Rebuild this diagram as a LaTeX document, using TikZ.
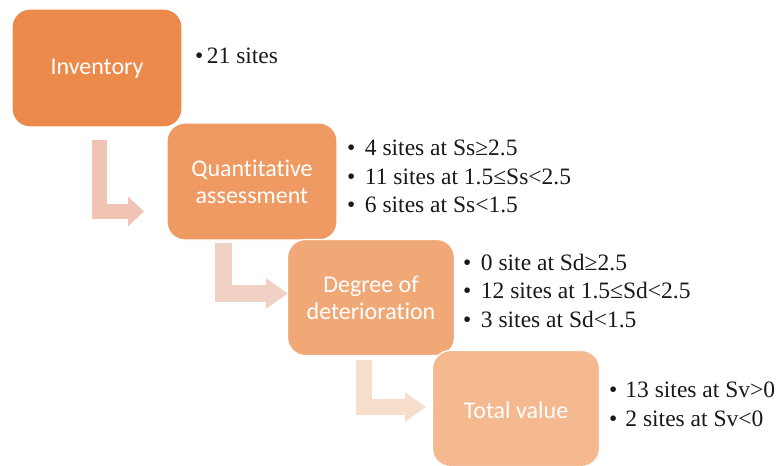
\documentclass[tikz,border=0pt]{standalone}
\usepackage{fontspec}
\setmainfont{Liberation Serif}
\newfontfamily\boxfont[Ligatures={NoCommon}]{Carlito}
\usetikzlibrary{arrows.meta}
\definecolor{cA}{HTML}{EC8A4C}
\definecolor{cB}{HTML}{EF9A63}
\definecolor{cC}{HTML}{F1A877}
\definecolor{cD}{HTML}{F4B98F}
\definecolor{aA}{HTML}{F0C3B4}
\definecolor{aB}{HTML}{F2D1C5}
\definecolor{aC}{HTML}{F7DDCB}
\tikzset{
  stagebox/.style={draw=white, line width=1.2pt, rounded corners=18pt, minimum width=167pt, minimum height=116pt, inner sep=0pt},
  stagelabel/.style={text=white, font=\boxfont\fontsize{24}{26.5}\selectfont, align=center, inner sep=0pt},
  item/.style={anchor=base west, inner sep=0pt, font=\fontsize{23.5}{28}\selectfont, text=black!90},
  bentarrow/.style={line width=#1, line join=miter, line cap=butt},
}
\begin{document}
\begin{tikzpicture}[x=1pt,y=-1pt]
\useasboundingbox (0,0) rectangle (783,465);
% bent arrows
\coordinate (a1s) at (99.5,140);
\coordinate (a1e) at (144,211.5);
\coordinate (a2s) at (223,243);
\coordinate (a2e) at (288,293.5);
\coordinate (a3s) at (364,360);
\coordinate (a3e) at (426,407);
\draw[bentarrow=15pt, aA, -{Triangle[width=29pt,length=16pt]}] (a1s) |- (a1e);
\draw[bentarrow=17pt, aB, -{Triangle[width=29pt,length=22pt]}] (a2s) |- (a2e);
\draw[bentarrow=16pt, aC, -{Triangle[width=28pt,length=21pt]}] (a3s) |- (a3e);
% boxes
\node[stagebox, fill=cA, minimum width=170pt, minimum height=118pt] (b1) at (97,68) {};
\node[stagebox, fill=cB, minimum width=170pt, minimum height=117pt] (b2) at (252,181.5) {};
\node[stagebox, fill=cC] (b3) at (371,297.5) {};
\node[stagebox, fill=cD] (b4) at (516,408.5) {};
\node[stagelabel] (l1) at (97,69) {Inventory};
\node[stagelabel] (l2) at (252,182) {Quantitative\\assessment};
\node[stagelabel] (l3) at (371,298) {Degree of\\deterioration};
\node[stagelabel] (l4) at (516,410) {Total value};
% lists
\node[item] (t1) at (195,64) {\textbullet\hskip3.5pt21 sites};
\node[item] (t2a) at (347,156) {\textbullet\hskip9.5pt4 sites at Ss≥2.5};
\node[item] (t2b) at (347,184) {\textbullet\hskip9.5pt11 sites at 1.5≤Ss<2.5};
\node[item] (t2c) at (347,212) {\textbullet\hskip9.5pt6 sites at Ss<1.5};
\node[item] (t3a) at (463,270) {\textbullet\hskip9.5pt0 site at Sd≥2.5};
\node[item] (t3b) at (463,298.5) {\textbullet\hskip9.5pt12 sites at 1.5≤Sd<2.5};
\node[item] (t3c) at (463,327) {\textbullet\hskip9.5pt3 sites at Sd<1.5};
\node[item] (t4a) at (609,397) {\textbullet\hskip8pt13 sites at Sv>0};
\node[item] (t4b) at (609,426) {\textbullet\hskip8pt2 sites at Sv<0};
\end{tikzpicture}
\end{document}
